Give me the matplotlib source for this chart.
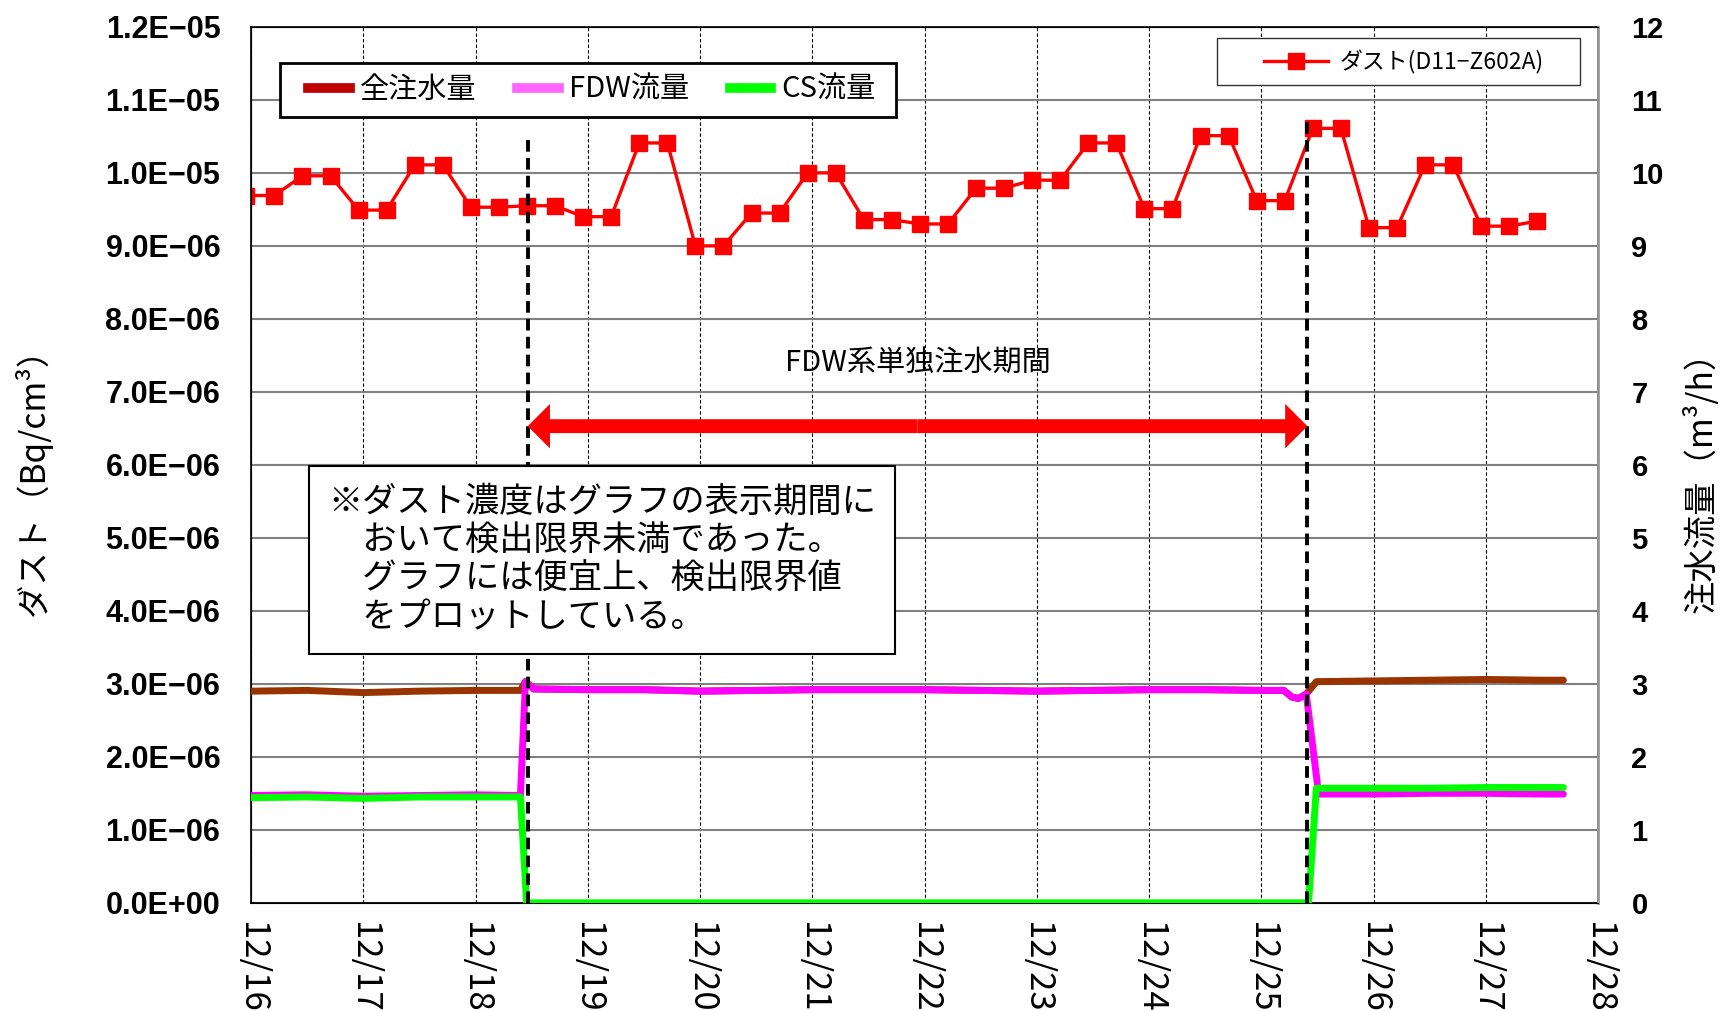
import matplotlib
matplotlib.use("Agg")
import matplotlib.pyplot as plt
from matplotlib.lines import Line2D
from matplotlib.patches import FancyArrowPatch, Rectangle

plt.rcParams['font.family'] = ['Noto Sans CJK JP', 'DejaVu Sans']

# x axis is days since 12/16 00:00
day_labels = ["12/16", "12/17", "12/18", "12/19", "12/20", "12/21", "12/22",
              "12/23", "12/24", "12/25", "12/26", "12/27", "12/28"]

# dust samples every 6 hours, first one at 12/15 23:00 (clipped)
dust_first = -1 / 24
dust_step = 0.25
dust_vals = [9.69, 9.69, 9.96, 9.96, 9.49, 9.49, 10.11, 10.11, 9.53, 9.53,
             9.55, 9.55, 9.40, 9.40, 10.41, 10.41, 9.00, 9.00, 9.45, 9.45,
             10.00, 10.00, 9.36, 9.36, 9.30, 9.30, 9.79, 9.79, 9.90, 9.90,
             10.41, 10.41, 9.51, 9.51, 10.51, 10.51, 9.62, 9.62, 10.61, 10.61,
             9.25, 9.25, 10.11, 10.11, 9.27, 9.27, 9.34]  # x1e-6 Bq/cm3
dust_days = [dust_first + dust_step * i for i in range(len(dust_vals))]

# injection flows (m3/h)
mid_t = [3.0, 3.5, 4.0, 4.5, 5.0, 5.5, 6.0, 6.5, 7.0, 7.5, 8.0, 8.5, 9.0,
         9.20, 9.27, 9.33, 9.40]
mid_v = [2.92, 2.92, 2.90, 2.91, 2.92, 2.92, 2.92, 2.91, 2.90, 2.91, 2.92,
         2.92, 2.91, 2.91, 2.82, 2.80, 2.86]

fdw_t = [0.0, 0.5, 1.0, 1.5, 2.0, 2.40, 2.445, 2.52] + mid_t + \
        [9.51, 10.0, 10.5, 11.0, 11.5, 11.69]
fdw_v = [1.47, 1.48, 1.46, 1.47, 1.48, 1.47, 3.03, 2.93] + mid_v + \
        [1.49, 1.49, 1.50, 1.50, 1.49, 1.49]

total_t = [0.0, 0.5, 1.0, 1.5, 2.0, 2.40, 2.445, 2.52] + mid_t + \
          [9.49, 10.0, 10.5, 11.0, 11.5, 11.69]
total_v = [2.90, 2.91, 2.88, 2.90, 2.91, 2.91, 3.03, 2.93] + mid_v + \
          [3.03, 3.04, 3.05, 3.06, 3.05, 3.05]

cs_t = [0.0, 0.5, 1.0, 1.5, 2.0, 2.40, 2.455, 9.42, 9.49, 10.0, 10.5, 11.0, 11.5, 11.69]
cs_v = [1.44, 1.45, 1.43, 1.45, 1.45, 1.45, 0.0, 0.0, 1.57, 1.57, 1.57, 1.58, 1.58, 1.58]

event_days = [2.465, 9.41]
event_tops = [10.52, 10.76]
arrow_y = 6.53
period_text = "FDW系単独注水期間"
period_text_y = 7.40

left_ticks = ["0.0E+00", "1.0E\u221206", "2.0E\u221206", "3.0E\u221206", "4.0E\u221206",
              "5.0E\u221206", "6.0E\u221206", "7.0E\u221206", "8.0E\u221206", "9.0E\u221206",
              "1.0E\u221205", "1.1E\u221205", "1.2E\u221205"]
right_ticks = [str(v) for v in range(13)]

note = ("※ダスト濃度はグラフの表示期間に\n"
        "\u3000おいて検出限界未満であった。\n"
        "\u3000グラフには便宜上、検出限界値\n"
        "\u3000をプロットしている。")

fig = plt.figure(figsize=(17.24, 10.11), dpi=100)
ax = fig.add_axes([0.1456, 0.107, 0.7814, 0.8664])
ax2 = ax.twinx()

ax.set_xlim(0, 12)
ax.set_ylim(0, 1.2e-5)
ax2.set_ylim(0, 12)

ax.set_xticks(range(13))
ax.set_xticklabels(day_labels, rotation=-90, fontsize=25)
ax.set_yticks([i * 1e-6 for i in range(13)])
ax.set_yticklabels(left_ticks, fontsize=22, family='Liberation Sans', fontweight='bold')
ax2.set_yticks(range(13))
ax2.set_yticklabels(right_ticks, fontsize=21, family='Liberation Sans', fontweight='bold')
ax.tick_params(axis='x', length=0, pad=14)
ax.tick_params(axis='y', length=0, pad=22)
ax2.tick_params(axis='y', length=0, pad=24)

ax.xaxis.grid(True, color='black', lw=0.8, linestyle=(0, (3, 2)))
ax.yaxis.grid(True, color='#808080', lw=1.5)
ax.set_axisbelow(True)
for s in ax.spines.values():
    s.set_color('black')
    s.set_linewidth(1.2)
ax2.spines['right'].set_color('#999999')
ax2.spines['right'].set_linewidth(2)

ax.set_ylabel("ダスト（Bq/cm³）", fontsize=24)
ax.yaxis.set_label_coords(-0.162, 0.49)
ax.yaxis.label.set_verticalalignment('center')
ax2.set_ylabel("注水流量（m³/h）", fontsize=24)
ax2.yaxis.set_label_coords(1.077, 0.49)
ax2.yaxis.label.set_verticalalignment('center')

# dust series
ax.plot(dust_days, [v * 1e-6 for v in dust_vals], color='#FF0000', lw=2.4,
        marker='s', markersize=11, zorder=3)

# flows
ax2.plot(total_t, total_v, color='#993300', lw=5, solid_capstyle='round', zorder=3)
ax2.plot(fdw_t, fdw_v, color='#FF00FF', lw=5, solid_capstyle='round', zorder=4)
ax2.plot(cs_t, cs_v, color='#00FF00', lw=5, solid_capstyle='round', zorder=5)

ax2.vlines(event_days, 0, event_tops, colors='black', lw=2.8,
           linestyles=(0, (3, 1.6)), zorder=6)

mid = (event_days[0] + event_days[1]) / 2
for end in event_days:
    ax2.add_patch(FancyArrowPatch((mid, arrow_y), (end, arrow_y), shrinkA=0, shrinkB=0,
                                  arrowstyle="simple,head_length=1.6,head_width=3.2,tail_width=1.0",
                                  mutation_scale=10, color='#FF0000', lw=0, zorder=6))
ax2.text(mid, period_text_y, period_text, fontsize=21, ha='center', va='center')

ax2.text(0.057, 0.477, note, transform=ax2.transAxes, fontsize=24.7, ha='left', va='top',
         linespacing=1.13, zorder=7,
         bbox=dict(boxstyle='square,pad=0.55', facecolor='white', edgecolor='black', lw=1.5))

# legend frames
ax2.add_patch(Rectangle((0.0215, 0.8966), 0.4573, 0.0626, transform=ax2.transAxes,
                        facecolor='white', edgecolor='black', lw=2, zorder=8))
ax2.add_patch(Rectangle((0.717, 0.934), 0.2696, 0.0529, transform=ax2.transAxes,
                        facecolor='white', edgecolor='#333333', lw=1, zorder=8))

h1 = [Line2D([], [], color='#C00000', lw=7),
      Line2D([], [], color='#FF66FF', lw=7),
      Line2D([], [], color='#00FF00', lw=7)]
leg1 = ax2.legend(h1, ["全注水量", "FDW流量", "CS流量"], ncol=3, fontsize=21,
                  loc='center left', bbox_to_anchor=(0.0423, 0.928), borderaxespad=0,
                  borderpad=0, handlelength=1.43, handletextpad=0.34, columnspacing=1.4,
                  frameon=False)
leg1.set_zorder(9)
ax2.add_artist(leg1)

h2 = [Line2D([], [], color='#FF0000', lw=2.4, marker='s', markersize=11)]
leg2 = ax2.legend(h2, ["ダスト(D11\u2212Z602A)"], fontsize=16.5, loc='center left',
                  bbox_to_anchor=(0.7522, 0.960), borderaxespad=0, borderpad=0,
                  handlelength=2.8, handletextpad=0.48, frameon=False)
leg2.set_zorder(9)

fig.savefig("out.png", dpi=100)
